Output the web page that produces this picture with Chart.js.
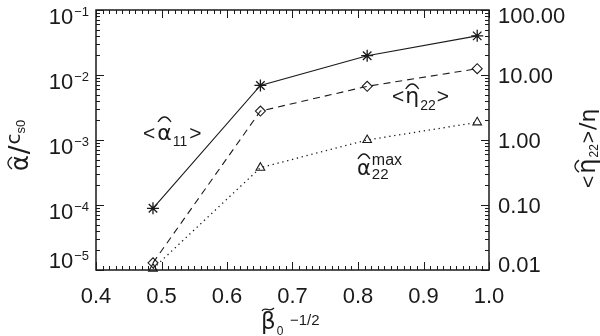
<!DOCTYPE html>
<html><head><meta charset="utf-8">
<script src="https://cdn.jsdelivr.net/npm/chart.js@4.4.1/dist/chart.umd.min.js"></script>
<style>html,body{margin:0;padding:0;background:#fff;}canvas{display:block;}</style>
</head><body>
<canvas id="c" width="600" height="336"></canvas>
<script>
// ---- data ----
const xValues    = [0.487, 0.651, 0.814, 0.982];
const alpha11    = [8.9e-5, 6.9e-3, 1.98e-2, 4.0e-2];      // left axis
const eta22      = [0.0129, 2.79, 6.7, 12.5];               // right axis
const alpha22max = [1.05e-5, 3.75e-4, 1.0e-3, 1.87e-3];    // left axis
const xTicks        = [0.4, 0.5, 0.6, 0.7, 0.8, 0.9, 1.0];
const xTickLabels   = ['0.4','0.5','0.6','0.7','0.8','0.9','1.0'];
const leftTickExps  = [-5, -4, -3, -2, -1];
const rightTicks    = [0.01, 0.1, 1, 10, 100];
const rightTickLabels = ['0.01','0.10','1.00','10.00','100.00'];

const INK = '#1a1a1a';
const NUM = '22px "Liberation Sans"';
const GREEK = '"DejaVu Sans"';

function pts(ys){ return xValues.map((x,i)=>({x:x,y:ys[i]})); }

function hat(ctx, cx, top, w, h){
  ctx.save();
  ctx.lineWidth = 1.3; ctx.strokeStyle = INK;
  ctx.beginPath();
  ctx.moveTo(cx - w/2, top + h);
  ctx.quadraticCurveTo(cx - w/4, top, cx, top);
  ctx.quadraticCurveTo(cx + w/4, top, cx + w/2, top + h);
  ctx.stroke();
  ctx.restore();
}
function put(ctx, text, font, x, y){
  ctx.font = font; ctx.fillText(text, x, y);
  return x + ctx.measureText(text).width;
}

const axesPlugin = {
  id: 'axesPlugin',
  beforeDatasetsDraw(chart){
    const ctx = chart.ctx, a = chart.chartArea;
    const xs = chart.scales.x, ys = chart.scales.y, y2 = chart.scales.y2;
    ctx.save();
    ctx.strokeStyle = INK; ctx.lineWidth = 1.5;
    ctx.strokeRect(a.left, a.top, a.right - a.left, a.bottom - a.top);
    ctx.lineWidth = 1;
    ctx.beginPath();
    // x ticks (bottom & top)
    for (let k = 0; k <= 60; k++){
      const v = 0.4 + k*0.01;
      const px = Math.round(xs.getPixelForValue(v)) + 0.5;
      const major = (k % 10 === 0);
      const L = major ? 8 : 4;
      ctx.moveTo(px, a.bottom); ctx.lineTo(px, a.bottom - L);
      ctx.moveTo(px, a.top); ctx.lineTo(px, a.top + L);
    }
    // y ticks (left on y, right on y2)
    for (let e = -5; e <= -1; e++){
      for (let m = 1; m <= 9; m++){
        if (e === -1 && m > 1) break;
        const v = m * Math.pow(10, e);
        const py = Math.round(ys.getPixelForValue(v)) + 0.5;
        const L = (m === 1) ? 8 : 4;
        ctx.moveTo(a.left, py); ctx.lineTo(a.left + L, py);
      }
    }
    for (let e = -2; e <= 2; e++){
      for (let m = 1; m <= 9; m++){
        if (e === 2 && m > 1) break;
        const v = m * Math.pow(10, e);
        const py = Math.round(y2.getPixelForValue(v)) + 0.5;
        const L = (m === 1) ? 8 : 4;
        ctx.moveTo(a.right, py); ctx.lineTo(a.right - L, py);
      }
    }
    ctx.stroke();
    ctx.restore();
  },
  afterDraw(chart){
    const ctx = chart.ctx, a = chart.chartArea;
    const xs = chart.scales.x, ys = chart.scales.y, y2 = chart.scales.y2;
    ctx.save();
    ctx.fillStyle = INK; ctx.textBaseline = 'alphabetic';
    // x tick labels
    ctx.font = NUM; ctx.textAlign = 'center';
    xTicks.forEach((v,i)=>{ ctx.fillText(xTickLabels[i], xs.getPixelForValue(v), a.bottom + 33); });
    // left tick labels 10^e
    ctx.textAlign = 'left';
    leftTickExps.forEach(e=>{
      const py = ys.getPixelForValue(Math.pow(10, e));
      let base = py + 14; if (base > a.bottom - 1) base = a.bottom - 2;
      const exp = '\u2212' + String(-e);
      ctx.font = '13px "Liberation Sans"'; const we = ctx.measureText(exp).width;
      ctx.font = NUM; const wb = ctx.measureText('10').width;
      const right = 89;
      ctx.fillText('10', right - we - wb - 1, base);
      ctx.font = '13px "Liberation Sans"';
      ctx.fillText(exp, right - we, base - 8);
    });
    // right tick labels
    ctx.font = NUM; ctx.textAlign = 'left';
    rightTicks.forEach((v,i)=>{
      const py = y2.getPixelForValue(v);
      let base = py + 8; base = Math.max(a.top + 13, Math.min(a.bottom + 2, base));
      ctx.fillText(rightTickLabels[i], a.right + 9, base);
    });

    // x axis title: beta-tilde_0 ^(-1/2)
    let x = put(ctx, '\u03B2', '23px ' + GREEK, 261, 329);
    ctx.save(); ctx.lineWidth = 1.3; ctx.strokeStyle = INK; ctx.beginPath();
    ctx.moveTo(262, 311); ctx.bezierCurveTo(265, 306, 269, 313, 274, 308); ctx.stroke(); ctx.restore();
    put(ctx, '0', '12px "Liberation Sans"', x + 1, 335);
    put(ctx, '\u22121/2', '15px "Liberation Sans"', 290, 325);

    // left axis title: alpha-hat / c_s0 (rotated)
    ctx.save();
    ctx.translate(28, 171); ctx.rotate(-Math.PI/2);
    let lx = put(ctx, '\u03B1', '24px ' + GREEK, 0, 0);
    hat(ctx, lx/2, -20, 12, 4);
    lx = put(ctx, '/', '26px ' + GREEK, lx + 1, 0);
    lx = put(ctx, 'c', '20px ' + GREEK, lx + 1, -8);
    put(ctx, 's0', '13px "Liberation Sans"', lx, -3);
    ctx.restore();

    // right axis title: <eta-hat_22>/eta (rotated)
    ctx.save();
    ctx.translate(595, 188); ctx.rotate(-Math.PI/2);
    let rx = put(ctx, '<', '21px "Liberation Sans"', 0, 0);
    const e0 = rx + 2;
    rx = put(ctx, '\u03B7', '24px ' + GREEK, e0, 0);
    hat(ctx, (e0 + rx)/2, -20, 12, 4);
    rx = put(ctx, '22', '12px "Liberation Sans"', rx + 1, 3);
    rx = put(ctx, '>', '21px "Liberation Sans"', rx + 1, 0);
    rx = put(ctx, '/', '22px ' + GREEK, rx + 1, 0);
    put(ctx, '\u03B7', '22px ' + GREEK, rx, 0);
    ctx.restore();

    // annotation <alpha-hat_11>
    let ax = put(ctx, '<', '21px "Liberation Sans"', 143, 140);
    const a0 = ax + 2;
    ax = put(ctx, '\u03B1', '22px ' + GREEK, a0, 140);
    hat(ctx, (a0 + ax)/2, 117, 13, 5);
    ax = put(ctx, '11', '14px "Liberation Sans"', ax + 1, 146);
    put(ctx, '>', '21px "Liberation Sans"', ax + 2, 140);

    // annotation <eta-hat_22>
    let ex = put(ctx, '<', '21px "Liberation Sans"', 392, 103);
    const h0 = ex + 1;
    ex = put(ctx, '\u03B7', '22px ' + GREEK, h0, 103);
    hat(ctx, (h0 + ex)/2, 84, 13, 5);
    ex = put(ctx, '22', '14px "Liberation Sans"', ex + 1, 110);
    put(ctx, '>', '21px "Liberation Sans"', ex + 1, 103);

    // annotation alpha-hat_22^max
    const m0 = 357;
    let mx = put(ctx, '\u03B1', '21px ' + GREEK, m0, 175);
    hat(ctx, (m0 + mx)/2, 154, 12, 5);
    put(ctx, 'max', '16px "Liberation Sans"', mx + 1, 165);
    put(ctx, '22', '15px "Liberation Sans"', mx + 1, 179);
    ctx.restore();
  }
};

new Chart(document.getElementById('c'), {
  type: 'line',
  data: {
    datasets: [
      { label: 'alpha11', data: pts(alpha11), yAxisID: 'y', borderColor: INK, borderWidth: 1.1,
        pointStyle: 'star', pointRadius: 6, pointBorderWidth: 1.3, pointBorderColor: INK,
        pointBackgroundColor: 'rgba(0,0,0,0)', tension: 0, clip: 12 },
      { label: 'eta22', data: pts(eta22), yAxisID: 'y2', borderColor: INK, borderWidth: 1.1,
        borderDash: [7, 5], pointStyle: 'rectRot', pointRadius: 5, pointBorderWidth: 1.1,
        pointBorderColor: INK, pointBackgroundColor: 'rgba(0,0,0,0)', tension: 0, clip: 12 },
      { label: 'alpha22max', data: pts(alpha22max), yAxisID: 'y', borderColor: INK, borderWidth: 1.3,
        borderDash: [1.3, 3.7], pointStyle: 'triangle', pointRadius: 5, pointBorderWidth: 1.1,
        pointBorderColor: INK, pointBackgroundColor: 'rgba(0,0,0,0)', tension: 0, clip: 12 }
    ]
  },
  options: {
    responsive: false, animation: false, devicePixelRatio: 1,
    layout: { padding: { left: 96, right: 111, top: 10, bottom: 66 } },
    plugins: { legend: { display: false }, tooltip: { enabled: false } },
    scales: {
      x:  { type: 'linear', min: 0.4, max: 1.0, display: false },
      y:  { type: 'logarithmic', min: 1e-5, max: 1e-1, display: false },
      y2: { type: 'logarithmic', min: 0.01, max: 100, display: false, position: 'right' }
    }
  },
  plugins: [axesPlugin]
});
</script>
</body></html>
